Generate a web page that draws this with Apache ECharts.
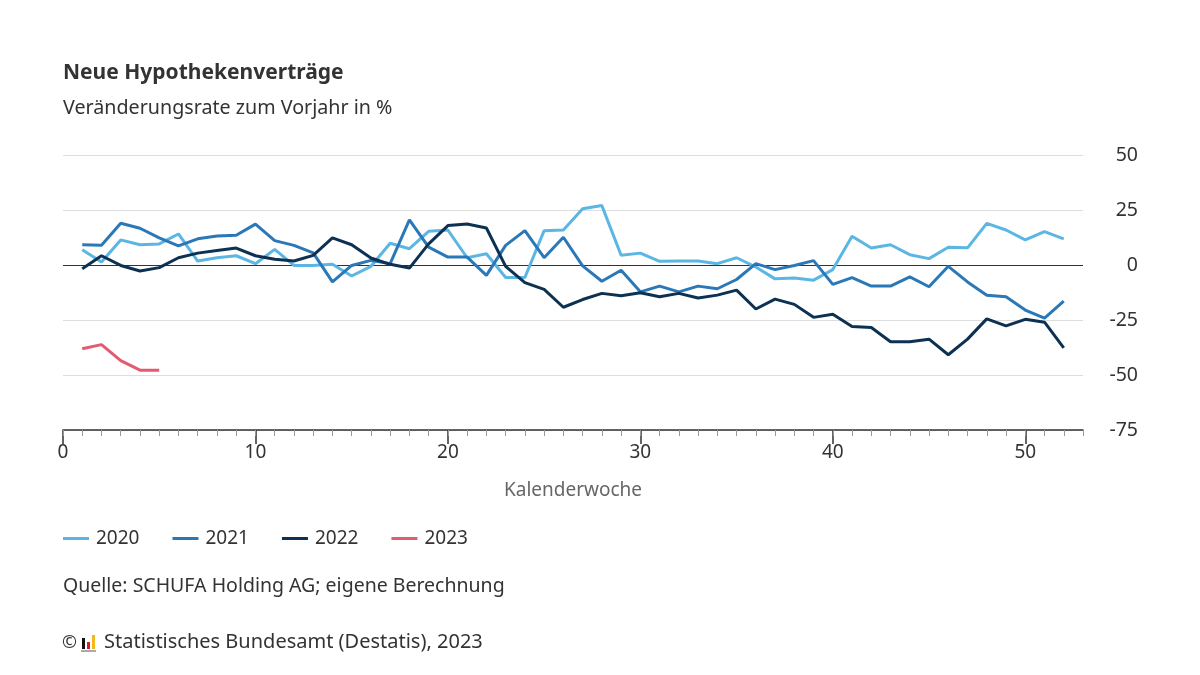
<!DOCTYPE html>
<html>
<head>
<meta charset="utf-8">
<script src="https://cdn.jsdelivr.net/npm/echarts@6/dist/echarts.min.js"></script>
<style>
html,body{margin:0;padding:0;background:#fff;}
#chart{width:1200px;height:675px;}
</style>
</head>
<body>
<div id="chart"></div>
<script>
const weeks = Array.from({length: 54}, (_, i) => String(i));
const seriesNames = ['2020', '2021', '2022', '2023'];
const v2020 = [6.9, 1.4, 11.4, 9.2, 9.6, 14.1, 1.8, 3.3, 4.2, 0.6, 7.1, -0.2, -0.2, 0.3, -5, -0.6, 9.9, 7.4, 15.3, 15.9, 3.3, 5.1, -5.7, -5.7, 15.6, 15.9, 25.6, 27, 4.4, 5.4, 1.7, 1.8, 1.8, 0.6, 3.3, -0.9, -6.3, -5.9, -6.9, -2.1, 13.1, 7.7, 9.2, 4.7, 2.9, 8.1, 7.8, 18.9, 15.9, 11.4, 15.2, 11.9];
const v2021 = [9.2, 9.0, 19, 16.7, 12.3, 8.7, 11.9, 13.2, 13.5, 18.6, 11.1, 8.9, 5.5, -7.7, -0.2, 2.1, 0.6, 20.5, 8.1, 3.6, 3.6, -4.7, 8.9, 15.6, 3.3, 12.6, -0.4, -7.4, -2.4, -12.2, -9.6, -12.2, -9.6, -10.8, -6.6, 0.6, -2.1, -0.2, 2.0, -8.8, -5.7, -9.6, -9.6, -5.4, -9.9, -0.6, -7.7, -13.7, -14.4, -20.5, -24.2, -16.4];
const v2022 = [-1.7, 4.2, -0.2, -2.7, -1.2, 3.3, 5.4, 6.6, 7.7, 4.2, 2.6, 1.8, 4.4, 12.3, 9.2, 3.2, 0.3, -1.4, 9.6, 17.9, 18.6, 16.8, -0.6, -8, -11.1, -19.2, -15.7, -12.9, -14, -12.6, -14.4, -12.9, -15, -13.7, -11.4, -20, -15.5, -17.9, -23.8, -22.4, -28, -28.4, -34.9, -34.9, -33.7, -40.8, -33.7, -24.5, -27.7, -24.7, -26, -37.7];
const v2023 = [-38.1, -36.2, -43.5, -47.8, -47.8];
const yTicks = [-75, -50, -25, 0, 25, 50];
const colors = ['#5cb6e4', '#2a78b8', '#0d3152', '#e35a73'];

const FONT = "'Noto Sans', 'Open Sans', sans-serif";
const toPairs = arr => arr.map((v, i) => [i + 1, v]);
const allValues = [v2020, v2021, v2022, v2023];

const chart = echarts.init(document.getElementById('chart'), null, {renderer: 'canvas'});
const option = {
  animation: false,
  backgroundColor: '#fff',
  textStyle: {fontFamily: FONT},
  color: colors,
  grid: {left: 63, right: 117, top: 155, bottom: 245, containLabel: false},
  legend: {
    left: 63, top: 529, padding: 0,
    icon: 'rect', itemWidth: 26, itemHeight: 3, itemGap: 33,
    textStyle: {fontSize: 19, color: '#333', fontFamily: FONT, padding: [0, 0, 0, 2]},
    data: seriesNames
  },
  xAxis: [
    {
      type: 'category', data: weeks, boundaryGap: false,
      axisLine: {show: true, onZero: false, lineStyle: {color: '#333', width: 1.5}},
      axisTick: {show: true, length: 14, interval: (i) => i % 10 === 0, lineStyle: {color: '#333', width: 1.5}},
      axisLabel: {show: true, interval: (i) => i % 10 === 0, fontSize: 19, color: '#333', margin: 13, fontFamily: FONT},
      splitLine: {show: false},
      name: 'Kalenderwoche', nameLocation: 'middle', nameGap: 51,
      nameTextStyle: {fontSize: 19, color: '#666', fontFamily: FONT}
    },
    {
      type: 'category', data: weeks, boundaryGap: false, position: 'bottom',
      axisLine: {show: false, onZero: false},
      axisTick: {show: true, length: 6, interval: 0, lineStyle: {color: '#999', width: 1}},
      axisLabel: {show: false},
      splitLine: {show: false}
    }
  ],
  yAxis: {
    type: 'value', position: 'right', min: yTicks[0], max: yTicks[yTicks.length - 1], interval: 25,
    axisLine: {show: false}, axisTick: {show: false},
    axisLabel: {align: 'right', margin: 55, fontSize: 19.5, color: '#333', fontFamily: FONT},
    splitLine: {show: true, lineStyle: {color: yTicks.map(t => t === 0 ? '#333' : '#dddddd'), width: 1}}
  },
  series: seriesNames.map((name, k) => ({
    name, type: 'line', xAxisIndex: 0, data: toPairs(allValues[k]),
    symbol: 'none', lineStyle: {width: 3, color: colors[k]}, itemStyle: {color: colors[k]},
    z: 2 + k
  })),
  graphic: [
    {type: 'text', left: 63, top: 63, style: {text: 'Neue Hypothekenverträge', font: "bold 21px " + FONT, fill: '#333'}},
    {type: 'text', left: 63, top: 98, style: {text: 'Veränderungsrate zum Vorjahr in %', font: "19.7px " + FONT, fill: '#333'}},
    {type: 'text', left: 63, top: 576, style: {text: 'Quelle: SCHUFA Holding AG; eigene Berechnung', font: "19.5px " + FONT, fill: '#333'}},
    {type: 'text', left: 62, top: 634, style: {text: '©', font: "18px " + FONT, fill: '#333'}},
    {type: 'rect', shape: {x: 82, y: 638, width: 3, height: 11}, style: {fill: '#111'}},
    {type: 'rect', shape: {x: 87, y: 642, width: 3, height: 7}, style: {fill: '#d0202e'}},
    {type: 'rect', shape: {x: 92, y: 635, width: 3, height: 14}, style: {fill: '#f2b81e'}},
    {type: 'rect', shape: {x: 81, y: 650, width: 15, height: 2}, style: {fill: '#aaa'}},
    {type: 'text', left: 104, top: 632, style: {text: 'Statistisches Bundesamt (Destatis), 2023', font: "20px " + FONT, fill: '#333'}}
  ]
};
chart.setOption(option);
</script>
</body>
</html>
